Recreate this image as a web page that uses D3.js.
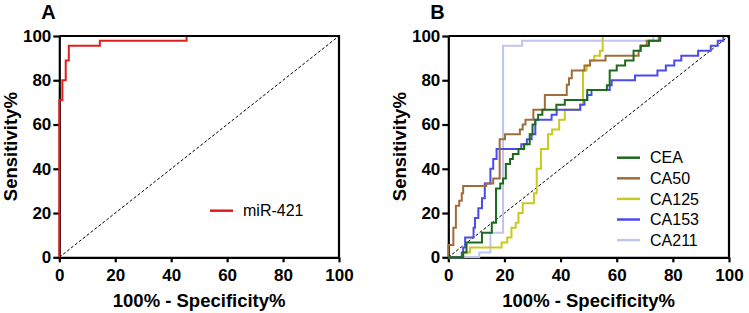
<!DOCTYPE html>
<html><head><meta charset="utf-8">
<script src="https://cdn.jsdelivr.net/npm/d3@7"></script>
<style>body{margin:0;background:#fff}svg{display:block}</style>
</head><body><svg id="c" width="749" height="313"></svg>
<script>
const ticks = [0, 20, 40, 60, 80, 100];
const panelLabels = ["A", "B"];
const xTitle = "100% - Specificity%";
const yTitle = "Sensitivity%";

const seriesA = ["miR-421"];
const mir421 = [[0,0],[0,71.1],[1.1,71.1],[1.1,80],[2.3,80],[2.3,88.9],[3.4,88.9],[3.4,95.6],[14.5,95.6],[14.5,97.8],[45.5,97.8],[45.5,100],[100,100]];

const seriesB = ["CEA", "CA50", "CA125", "CA153", "CA211"];
const cea = [[0,0],[5.3,0],[5.3,2.2],[6.5,2.2],[6.5,6.7],[12,6.7],[12,11.1],[15.5,11.1],[15.5,15.6],[17,15.6],[17,31.1],[18.5,31.1],[18.5,33.3],[19.5,33.3],[19.5,35.6],[20.5,35.6],[20.5,42.2],[22,42.2],[22,44.4],[23,44.4],[23,46.7],[25,46.7],[25,48.9],[27,48.9],[27,51.1],[29,51.1],[29,55.6],[30,55.6],[30,60],[31,60],[31,62.2],[32,62.2],[32,64.4],[33.5,64.4],[33.5,66.7],[38.5,66.7],[38.5,68.9],[41.5,68.9],[41.5,71.1],[49.5,71.1],[49.5,75.6],[56.5,75.6],[56.5,77.8],[57.5,77.8],[57.5,84.4],[60,84.4],[60,86.7],[63,86.7],[63,88.9],[66,88.9],[66,93.3],[68.5,93.3],[68.5,95.6],[71.5,95.6],[71.5,97.8],[75.5,97.8],[75.5,100],[100,100]];
const ca50 = [[0,0],[0,5.6],[1.8,5.6],[1.8,13.3],[2.7,13.3],[2.7,23.3],[3.9,23.3],[3.9,25.6],[4.8,25.6],[4.8,28.9],[5.3,28.9],[5.3,32.2],[13.5,32.2],[13.5,33.3],[16,33.3],[16,35.6],[18.3,35.6],[18.3,53.3],[20.2,53.3],[20.2,55.6],[25.5,55.6],[25.5,57.8],[26.5,57.8],[26.5,60],[27.5,60],[27.5,62.2],[30.3,62.2],[30.3,66.7],[34.4,66.7],[34.4,73.3],[42.2,73.3],[42.2,78],[43,78],[43,80.9],[44,80.9],[44,84.4],[48.5,84.4],[48.5,86.7],[50.5,86.7],[50.5,88.9],[56,88.9],[56,91.1],[67.8,91.1],[67.8,93.3],[68.5,93.3],[68.5,95.6],[70.7,95.6],[70.7,97.8],[75,97.8],[75,100],[100,100]];
const ca125 = [[0,0],[5.3,0],[5.3,2.2],[7.7,2.2],[7.7,4.4],[19,4.4],[19,6.7],[21,6.7],[21,8.9],[22.5,8.9],[22.5,13.3],[24,13.3],[24,15.6],[25,15.6],[25,20],[26.5,20],[26.5,24.4],[30.5,24.4],[30.5,28.9],[31.5,28.9],[31.5,40],[33,40],[33,48.9],[35.5,48.9],[35.5,55.6],[37,55.6],[37,57.8],[39.5,57.8],[39.5,62.2],[41.5,62.2],[41.5,66.7],[47,66.7],[47,69],[48,69],[48,84.4],[49.3,84.4],[49.3,86.7],[50.5,86.7],[50.5,88.9],[52,88.9],[52,91.1],[54,91.1],[54,93.3],[55,93.3],[55,100],[100,100]];
const ca153 = [[0,0],[4.8,0],[4.8,2.2],[5.3,2.2],[5.3,4.4],[6,4.4],[6,8.9],[9,8.9],[9,13.3],[9.5,13.3],[9.5,17.8],[10.7,17.8],[10.7,22.2],[12,22.2],[12,26.7],[13,26.7],[13,33.3],[15,33.3],[15,40],[16,40],[16,44.4],[17.2,44.4],[17.2,48.9],[26,48.9],[26,51.1],[28,51.1],[28,53.3],[29.7,53.3],[29.7,55.6],[31,55.6],[31,62.2],[36.8,62.2],[36.8,64.4],[38.6,64.4],[38.6,66.7],[47,66.7],[47,68.9],[48.5,68.9],[48.5,71.1],[49.5,71.1],[49.5,73.3],[51,73.3],[51,75.6],[57.5,75.6],[57.5,77.8],[58.2,77.8],[58.2,80],[66.5,80],[66.5,82.2],[74.5,82.2],[74.5,84.4],[77.5,84.4],[77.5,86.7],[80.5,86.7],[80.5,88.9],[83,88.9],[83,91.1],[89,91.1],[89,93.3],[93.5,93.3],[93.5,95.6],[96,95.6],[96,97.8],[98,97.8],[98,100],[100,100]];
const ca211 = [[0,0],[11,0],[11,2.2],[15,2.2],[15,11.1],[19.5,11.1],[19.5,95.6],[26.3,95.6],[26.3,97.8],[73,97.8],[73,100],[100,100]];

const colors = {"miR-421":"#e51c1c","CEA":"#1c6b1c","CA50":"#a06c3a","CA125":"#c9c91e","CA153":"#4b4bec","CA211":"#c3c3f0"};
const dataMap = {"miR-421":mir421,"CEA":cea,"CA50":ca50,"CA125":ca125,"CA153":ca153,"CA211":ca211};

const svg = d3.select("#c");
const font = "Arial, 'Liberation Sans', sans-serif";
const plotTop = 36, plotBottom = 257.3;

function panel(x0, x1, label, names, drawOrder, legendX, legendY0, legendStep) {
  const x = d3.scaleLinear().domain([0,100]).range([x0, x1]);
  const y = d3.scaleLinear().domain([0,100]).range([plotBottom, plotTop]);
  const g = svg.append("g");
  g.append("line").attr("x1", x(0)).attr("y1", y(0)).attr("x2", x(100)).attr("y2", y(100))
    .attr("stroke", "#000").attr("stroke-width", 1).attr("stroke-dasharray", "3,2");
  const xa = g.append("g").attr("transform", `translate(0,${plotBottom})`)
    .call(d3.axisBottom(x).tickValues(ticks).tickSize(5).tickPadding(7).tickSizeOuter(0));
  const ya = g.append("g").attr("transform", `translate(${x0},0)`)
    .call(d3.axisLeft(y).tickValues(ticks).tickSize(6).tickPadding(2).tickSizeOuter(0));
  [xa, ya].forEach(a => {
    a.selectAll("path,line").attr("stroke", "#000").attr("stroke-width", 2.2);
    a.selectAll("text").attr("font-family", font).attr("font-weight", "bold").attr("font-size", 17).attr("fill", "#000");
  });
  const line = d3.line().x(d => x(d[0])).y(d => y(d[1]));
  drawOrder.forEach(n => {
    g.append("path").datum(dataMap[n]).attr("d", line).attr("fill", "none")
      .attr("stroke", colors[n]).attr("stroke-width", 2);
  });
  g.append("path").attr("d", `M${x(0)},${y(100)}H${x(100)}V${y(0)}`)
    .attr("fill", "none").attr("stroke", "#000").attr("stroke-width", 2.2);
  g.append("text").attr("x", (x0 + x1) / 2).attr("y", 307).attr("text-anchor", "middle")
    .attr("font-family", font).attr("font-weight", "bold").attr("font-size", 18.5).text(xTitle);
  g.append("text").attr("transform", `translate(${x0 - 42},${(plotTop + plotBottom) / 2}) rotate(-90)`)
    .attr("text-anchor", "middle").attr("font-family", font).attr("font-weight", "bold")
    .attr("font-size", 18.5).text(yTitle);
  g.append("text").attr("x", x0 - 18).attr("y", 19).attr("font-family", font)
    .attr("font-weight", "bold").attr("font-size", 20).text(label);
  names.forEach((n, i) => {
    const ly = legendY0 + i * legendStep;
    g.append("line").attr("x1", legendX).attr("x2", legendX + 23).attr("y1", ly).attr("y2", ly)
      .attr("stroke", colors[n]).attr("stroke-width", 2.5);
    g.append("text").attr("x", legendX + 33).attr("y", ly).attr("dy", "0.36em")
      .attr("font-family", font).attr("font-size", 16).attr("fill", "#000").text(n);
  });
}

panel(59.3, 339, panelLabels[0], seriesA, seriesA, 210, 210.7, 20.5);
panel(448.3, 729, panelLabels[1], seriesB, ["CA211", "CA125", "CA153", "CA50", "CEA"], 617, 157.7, 20.6);
</script></body></html>
